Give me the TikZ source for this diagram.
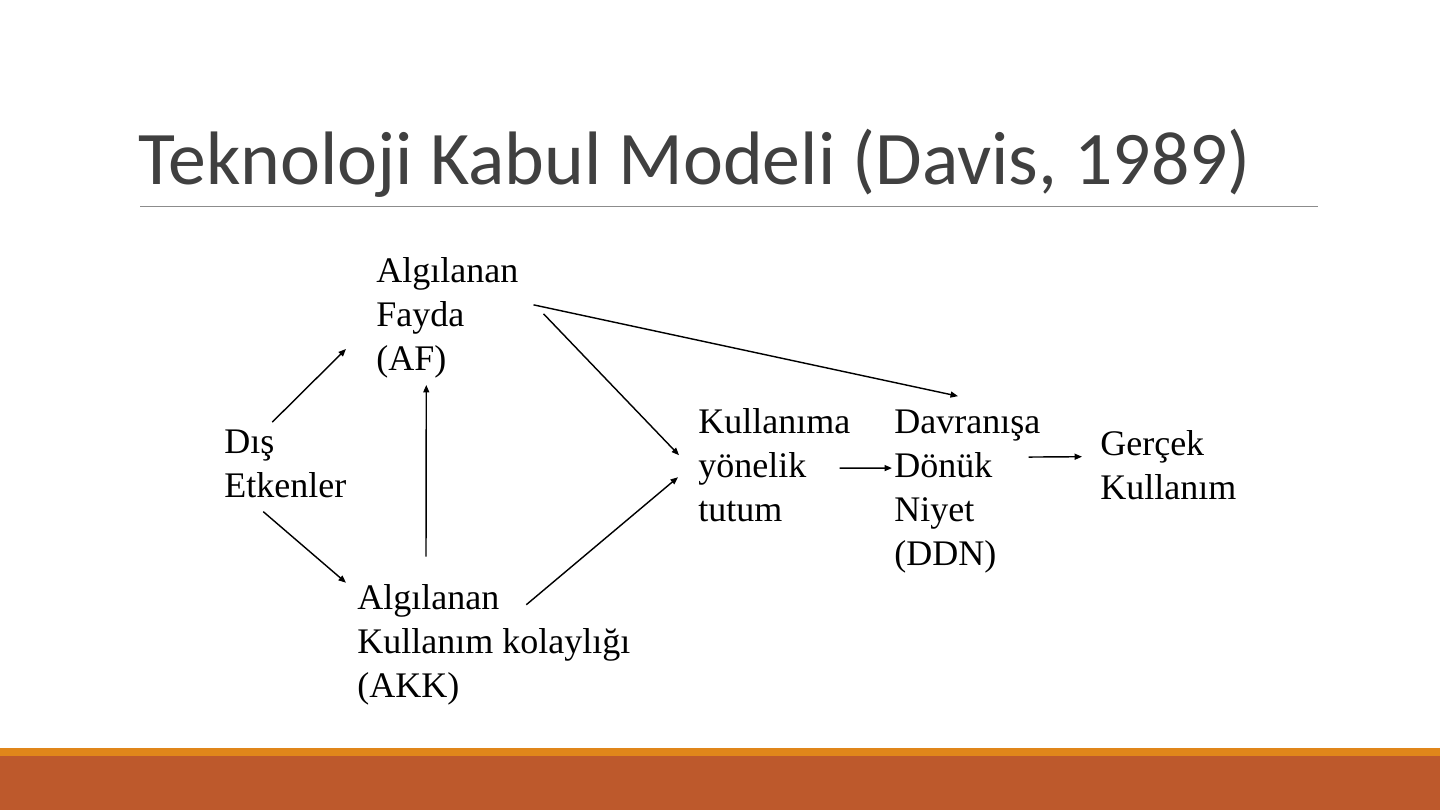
\documentclass[tikz,border=0pt]{standalone}
\usepackage{fontspec}
\setmainfont{Liberation Serif}
\newfontfamily\titlefont{Carlito}
\usetikzlibrary{arrows.meta,calc}

\definecolor{titlegray}{HTML}{404040}
\definecolor{rulegray}{HTML}{8C8C8C}
\definecolor{bandorange}{HTML}{E0861A}
\definecolor{bandrust}{HTML}{BD592C}

\begin{document}
\begin{tikzpicture}[x=0.6667pt,y=-0.6667pt,
  txt/.style={anchor=base west,inner sep=0pt,align=left,font=\fontsize{24}{29.33}\selectfont},
  arr/.style={-{Triangle[length=5pt,width=4pt]},line width=0.95pt}]
  \useasboundingbox (0,0) rectangle (1440,810);
  % title and rule
  \node[anchor=base west,inner sep=0pt,text=titlegray,font=\titlefont\fontsize{50.5}{60}\selectfont] (title) at (138,184) {Teknoloji Kabul Modeli (Davis, 1989)};
  \draw[rulegray,line width=0.6pt] (140,206) -- (1318,206);
  % bottom bands
  \fill[bandorange] (0,748) rectangle (1440,756);
  \fill[bandrust] (0,756) rectangle (1440,810);
  % boxes (placed at the baseline of their last line)
  \node[txt] (dis)   at (224,497)  {Dış\\Etkenler};
  \node[txt] (af)    at (376,370)  {Algılanan\\Fayda\\(AF)};
  \node[txt] (akk)   at (357,697)  {Algılanan\\Kullanım kolaylığı\\(AKK)};
  \node[txt] (tutum) at (698,521)  {Kullanıma\\yönelik\\tutum};
  \node[txt] (ddn)   at (894,565)  {Davranışa\\Dönük\\Niyet\\(DDN)};
  \node[txt] (ger)   at (1100,499) {Gerçek\\Kullanım};
  % links
  \path[arr]
    ($(dis.north)+(-13,-7)$)      edge ($(af.south west)+(-30,-29)$)
    ($(dis.south)+(-22,14)$)      edge ($(akk.north west)+(-11,-1)$)
    ($(akk.north west)+(69,-27)$) edge ($(af.south)+(-21,7)$)
    ($(af.east)+(15,-12.5)$)      edge ($(ddn.north west)+(64,-13)$)
    ($(af.east)+(25,-3.5)$)       edge ($(tutum.west)+(-19,-9.5)$)
    ($(akk.north)+(32.5,21)$)     edge ($(tutum.west)+(-20,12.5)$)
    ($(tutum.east)+(-11,3.5)$)    edge ($(ddn.west)+(-2,-23)$)
    ($(ddn.east)+(-12,-34)$)      edge ($(ger.west)+(-18,-8)$);
\end{tikzpicture}
\end{document}
